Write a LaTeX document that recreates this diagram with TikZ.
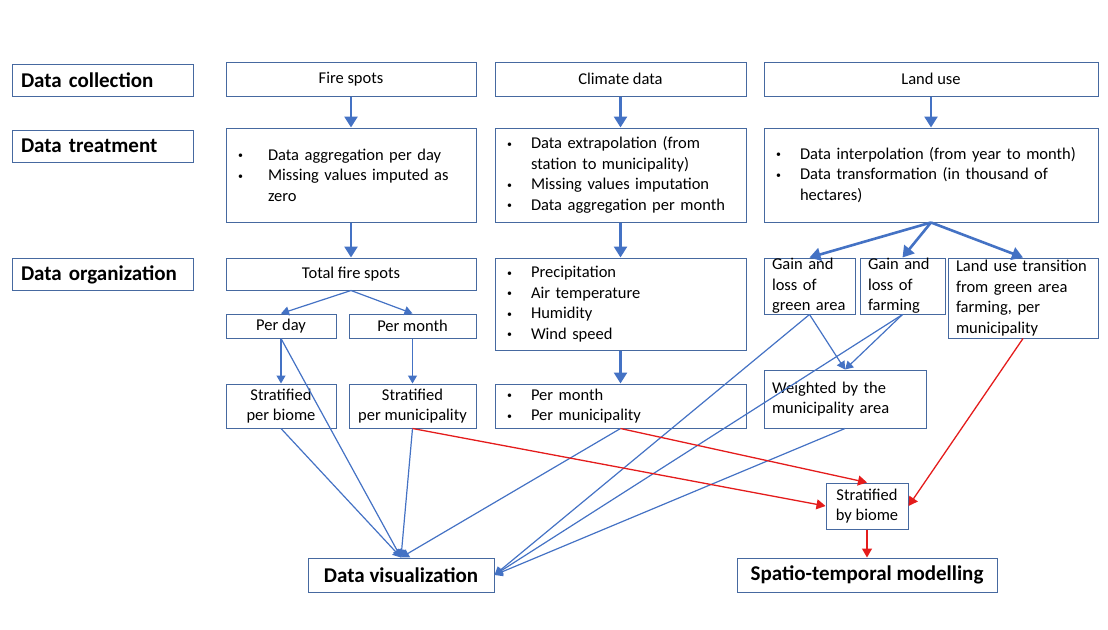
\documentclass[tikz,border=0pt]{standalone}
\usepackage{fontspec}
\setmainfont{Carlito}
\usetikzlibrary{arrows.meta}
\definecolor{boxline}{RGB}{70,105,160}
\definecolor{flow}{RGB}{68,114,196}
\definecolor{model}{RGB}{228,28,28}
\def\txt{\fontsize{16.5}{20.5}\selectfont}
\def\hdr{\fontsize{21}{25}\selectfont\bfseries}
\newcommand\bl[2][24pt]{\makebox[#1][l]{\raisebox{1.6pt}{\scalebox{0.6}{\textbullet}}}#2}

\begin{document}
\begin{tikzpicture}[x=1pt, y=-1pt,
  box/.style={draw=boxline, line width=1pt, inner ysep=0pt, font=\txt},
  head/.style={box, font=\hdr, align=left, text width=163pt, inner xsep=9pt, minimum height=32pt},
  list/.style={box, align=left, inner xsep=12pt},
  small/.style={box, align=left, inner xsep=8pt},
  fat/.style={draw=flow, line width=2.6pt, -{Triangle[length=11pt,width=13pt]}},
  thin/.style={draw=flow, line width=1.2pt, -{Triangle[length=8pt,width=9pt]}},
  red/.style={draw=model, line width=1.3pt, -{Triangle[length=9pt,width=10pt]}}]
  \useasboundingbox (0,0) rectangle (1108,629);

  \node (collect) [head] at (102.5,80) {Data collection};
  \node (treat) [head] at (102.5,146) {Data treatment};
  \node (organize) [head] at (102.5,274.5) {Data organization};

  \node (fire) [box, minimum width=250pt, minimum height=34pt] at (351,79) {Fire spots};
  \node (climate) [box, minimum width=251pt, minimum height=34pt] at (620.5,79) {Climate data};
  \node (land) [box, minimum width=334pt, minimum height=34pt] at (931,79) {Land use};

  \node (firetreat) [list, text width=226pt, minimum height=94pt] at (351,175)
    {\bl[30pt]{Data aggregation per day}\\ \bl[30pt]{Missing values imputed as}\\ \hspace*{30pt}zero};
  \node (climtreat) [list, text width=227pt, minimum height=94pt] at (620.5,175)
    {\bl{Data extrapolation (from}\\ \hspace*{24pt}station to municipality)\\ \bl{Missing values imputation}\\ \bl{Data aggregation per month}};
  \node (landtreat) [list, text width=310pt, minimum height=94pt] at (931,175)
    {\bl{Data interpolation (from year to month)}\\ \bl{Data transformation (in thousand of}\\ \hspace*{24pt}hectares)};

  \node (total) [box, minimum width=250pt, minimum height=32pt] at (351,274) {Total fire spots};
  \node (perday) [box, minimum width=110pt, minimum height=24pt] at (281,326) {Per day};
  \node (permonth) [box, minimum width=127pt, minimum height=24pt] at (412.5,326) {Per month};
  \node (strbiome) [box, align=center, minimum width=110pt, minimum height=44pt] at (281,406) {Stratified\\per biome};
  \node (strmun) [box, align=center, minimum width=127pt, minimum height=44pt] at (412.5,406) {Stratified\\per municipality};

  \node (climorg) [list, text width=227pt, minimum height=92pt] at (620.5,304)
    {\bl{Precipitation}\\ \bl{Air temperature}\\ \bl{Humidity}\\ \bl{Wind speed}};
  \node (climmun) [list, text width=227pt, minimum height=44pt] at (620.5,406)
    {\bl{Per month}\\ \bl{Per municipality}};

  \node (green) [small, text width=75pt, minimum height=56pt] at (809.5,286) {Gain and\\loss of\\green area};
  \node (farming) [small, text width=69pt, minimum height=56pt] at (902.5,286) {Gain and\\loss of\\farming};
  \node (transition) [small, text width=134pt, minimum height=80pt] at (1023,298)
    {Land use transition\\from green area\\farming, per\\municipality};
  \node (weighted) [small, text width=146pt, minimum height=58pt] at (845,399) {Weighted by the\\municipality area};
  \node (sbiome) [box, align=center, minimum width=82pt, minimum height=46pt] at (867,506) {Stratified\\by biome};

  \node (dataviz) [box, font=\hdr, minimum width=186pt, minimum height=34pt] at (401,575) {Data visualization};
  \node (spatio) [box, font=\hdr, minimum width=260pt, minimum height=34pt] at (867,575) {Spatio-temporal modelling};

  \draw[fat] (fire) -- (firetreat);
  \draw[fat] (firetreat) -- (total);
  \draw[fat] (climate) -- (climtreat);
  \draw[fat] (climtreat) -- (climorg);
  \draw[fat] (climorg) -- (climmun);
  \draw[fat] (land) -- (landtreat);
  \draw[fat] (landtreat.south) -- (green.north);
  \draw[fat] (landtreat.south) -- (farming.north);
  \draw[fat] (landtreat.south) -- (transition.north);

  \draw[thin] (total.south) -- (perday.north);
  \draw[thin] (total.south) -- (permonth.north);
  \draw[thin] (perday) -- (strbiome);
  \draw[thin] (permonth) -- (strmun);
  \draw[thin] (green.south) -- (weighted.north);
  \draw[thin] (farming.south) -- (weighted.north);

  \draw[thin] (perday.south) -- (dataviz.north);
  \draw[thin] (strbiome.south) -- (dataviz.north);
  \draw[thin] (strmun.south) -- (dataviz.north);
  \draw[thin] (climmun.south) -- (dataviz.north);
  \draw[thin] (green.south) -- (dataviz.east);
  \draw[thin] (farming.south) -- (dataviz.east);
  \draw[thin] (weighted.south) -- (dataviz.east);

  \draw[red] (strmun.south) -- (sbiome.west);
  \draw[red] (climmun.south) -- (sbiome.north);
  \draw[red] (transition.south) -- (sbiome.east);
  \draw[red] (sbiome) -- (spatio);
\end{tikzpicture}
\end{document}
